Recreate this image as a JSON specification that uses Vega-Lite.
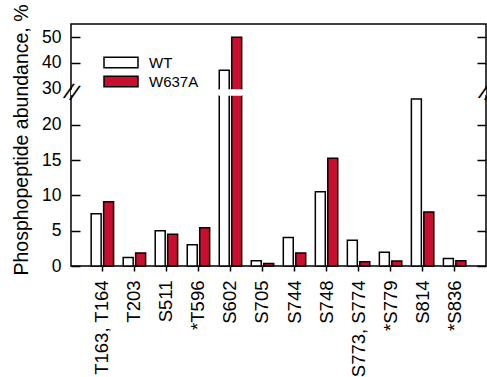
{
  "$schema": "https://vega.github.io/schema/vega-lite/v6.json",
  "width": 415,
  "height": 242,
  "autosize": {"type": "none"},
  "padding": {"left": 71, "top": 24, "right": 1, "bottom": 111},
  "background": "white",
  "config": {
    "font": "Liberation Sans",
    "view": {"stroke": "black", "strokeWidth": 1.5},
    "axis": {"labelFont": "Liberation Sans", "titleFont": "Liberation Sans", "labelColor": "black", "titleColor": "black", "tickColor": "black", "grid": false, "domain": false}
  },
  "data": {
    "values": [
      {"site": "T163, T164", "genotype": "WT", "value": 7.4},
      {"site": "T163, T164", "genotype": "W637A", "value": 9.1},
      {"site": "T203", "genotype": "WT", "value": 1.2},
      {"site": "T203", "genotype": "W637A", "value": 1.85},
      {"site": "S511", "genotype": "WT", "value": 5.0},
      {"site": "S511", "genotype": "W637A", "value": 4.5},
      {"site": "*T596", "genotype": "WT", "value": 3.0},
      {"site": "*T596", "genotype": "W637A", "value": 5.4},
      {"site": "S602", "genotype": "WT", "value": 37},
      {"site": "S602", "genotype": "W637A", "value": 50},
      {"site": "S705", "genotype": "WT", "value": 0.75},
      {"site": "S705", "genotype": "W637A", "value": 0.35},
      {"site": "S744", "genotype": "WT", "value": 4.05},
      {"site": "S744", "genotype": "W637A", "value": 1.85},
      {"site": "S748", "genotype": "WT", "value": 10.5},
      {"site": "S748", "genotype": "W637A", "value": 15.25},
      {"site": "S773, S774", "genotype": "WT", "value": 3.65},
      {"site": "S773, S774", "genotype": "W637A", "value": 0.6},
      {"site": "*S779", "genotype": "WT", "value": 1.95},
      {"site": "*S779", "genotype": "W637A", "value": 0.7},
      {"site": "S814", "genotype": "WT", "value": 23.65},
      {"site": "S814", "genotype": "W637A", "value": 7.65},
      {"site": "*S836", "genotype": "WT", "value": 1.05},
      {"site": "*S836", "genotype": "W637A", "value": 0.75}
    ]
  },
  "layer": [
    {
      "mark": {"type": "bar", "stroke": "black", "strokeWidth": 1.5},
      "encoding": {
        "x": {"field": "site", "type": "nominal", "sort": null, "scale": {"paddingInner": 0.3, "paddingOuter": 0.63},
          "axis": {"title": null, "labelAngle": -90, "labelAlign": "right", "labelBaseline": "middle", "labelFontSize": 18.5, "labelPadding": 9, "tickSize": 5, "tickWidth": 1.5, "domain": false}},
        "xOffset": {"field": "genotype", "type": "nominal", "sort": ["WT", "W637A"], "scale": {"paddingInner": 0.2}},
        "y": {"field": "value", "type": "quantitative",
          "scale": {"domain": [0, 24.2, 29.25, 55.25], "range": [242, 71, 66, 0], "nice": false, "zero": false},
          "axis": {"orient": "left", "title": "Phosphopeptide abundance, %", "titleFontSize": 19.5, "titleFontWeight": "normal", "titleX": -50, "titleY": 115.5, "titleAngle": -90, "titleAlign": "center", "titleBaseline": "middle",
            "values": [0, 5, 10, 15, 20, 30, 40, 50], "tickSize": -9, "tickWidth": 1.5,
            "tickColor": {"condition": {"test": "datum.value == 30", "value": "transparent"}, "value": "black"},
            "labelFontSize": 17.5, "labelPadding": 19, "labelAlign": "right", "labelBaseline": "middle", "labelOverlap": false}},
        "fill": {"field": "genotype", "type": "nominal", "sort": ["WT", "W637A"],
          "scale": {"domain": ["WT", "W637A"], "range": ["white", "#c8102e"]},
          "legend": {"title": null, "orient": "none", "legendX": 42.5, "legendY": 31, "symbolType": "M-3.09,-0.97H3.09V0.97H-3.09Z", "symbolSize": 121, "symbolStrokeColor": "black", "symbolStrokeWidth": 1.5, "labelFontSize": 15, "labelFont": "Liberation Sans", "labelColor": "black", "labelOffset": 20.5, "rowPadding": 2}}
      }
    },
    {
      "mark": {"type": "rect", "fill": "white"},
      "encoding": {
        "y": {"datum": 24.2, "type": "quantitative",
          "axis": {"orient": "right", "title": null, "values": [0, 5, 10, 15, 20, 26.7, 30, 40, 50], "tickSize": -9, "tickWidth": 1.5,
            "tickColor": {"condition": {"test": "datum.value == 26.7 || datum.value == 30", "value": "transparent"}, "value": "black"},
            "labelExpr": "datum.value == 26.7 ? '//' : ''", "labelAngle": 20, "labelAlign": "center", "labelBaseline": "middle", "labelPadding": 9, "labelFontSize": 23, "labelOverlap": false, "zindex": 1}},
        "y2": {"datum": 29.25}
      }
    },
    {
      "mark": {"type": "bar", "fill": "white", "stroke": "white", "strokeWidth": 1.5},
      "encoding": {
        "x": {"field": "site", "type": "nominal", "sort": null, "axis": {"title": null, "labelAngle": -90, "labelAlign": "right", "labelBaseline": "middle", "labelFontSize": 18.5, "labelPadding": 9, "tickSize": 5, "tickWidth": 1.5, "domain": false}},
        "xOffset": {"field": "genotype", "type": "nominal", "sort": ["WT", "W637A"]},
        "y": {"datum": 24.2, "type": "quantitative",
          "axis": {"orient": "left", "title": null, "values": [26.7], "ticks": false, "labelExpr": "'//'", "labelAngle": 20, "labelAlign": "center", "labelBaseline": "middle", "labelPadding": 0, "labelFontSize": 23, "labelOverlap": false, "zindex": 1}},
        "y2": {"datum": 29.25}
      }
    }
  ],
  "resolve": {"scale": {"y": "shared"}, "axis": {"y": "independent"}}
}
